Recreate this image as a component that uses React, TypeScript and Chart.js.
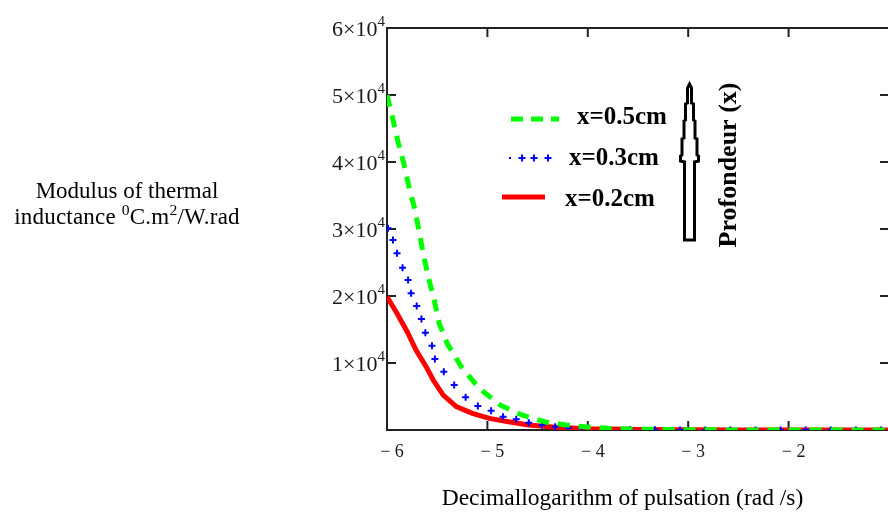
import React, { useEffect, useRef } from 'react';
import { Chart, registerables } from 'chart.js';

Chart.register(...registerables);

// ---- data ----
const xMin = -6;
const xMax = -1;
const yMax = 60000;
const yStep = 10000;

const greenX = [-6.0, -5.94, -5.89, -5.83, -5.78, -5.72, -5.68, -5.64, -5.59, -5.53, -5.48, -5.4, -5.26, -5.08, -4.87, -4.65, -4.42, -4.22, -4.0, -3.8, -3.5, -3.0, -2.5, -2.0, -1.0];
const greenY = [50000, 46300, 43000, 39600, 36200, 32800, 29600, 26400, 22900, 19400, 15900, 12900, 9450, 6200, 3700, 2200, 1200, 750, 450, 250, 120, 40, 10, 0, 0];

const blueX = [-5.99, -5.94, -5.9, -5.845, -5.79, -5.76, -5.704, -5.657, -5.618, -5.552, -5.523, -5.434, -5.331, -5.217, -5.095, -4.963, -4.844, -4.713, -4.588, -4.456, -4.324, -4.193, -4.06, -3.83, -3.58, -3.33, -3.08, -2.83, -2.58, -2.33, -2.08, -1.83, -1.58, -1.33, -1.08];
const blueY = [30100, 28360, 26370, 24230, 22390, 20400, 18510, 16570, 14520, 12590, 10600, 8700, 6720, 4880, 3580, 2880, 1990, 1600, 1090, 750, 490, 340, 250, 120, 60, 30, 10, 0, 0, 0, 0, 0, 0, 0, 0];

const redX = [-6.0, -5.9, -5.8, -5.71, -5.61, -5.54, -5.44, -5.31, -5.15, -4.98, -4.79, -4.59, -4.32, -4.0, -3.5, -3.0, -2.5, -2.0, -1.0];
const redY = [19900, 17400, 14700, 11900, 9450, 7460, 5220, 3480, 2490, 1740, 1240, 750, 400, 200, 80, 30, 10, 0, 0];

const seriesLabels = ['x=0.5cm', 'x=0.3cm', 'x=0.2cm'];
const seriesColors = ['#00ff00', '#0000ff', '#ff0000'];
const arrowLabel = 'Profondeur (x)';
const xTitle = 'Decimallogarithm of pulsation (rad /s)';
const yTitleLine1 = 'Modulus of thermal';

const SERIF = '"Liberation Serif", "Times New Roman", serif';

const toPoints = (xs: number[], ys: number[]) => xs.map((x, i) => ({ x, y: ys[i] }));

const decorPlugin = {
  id: 'decor',
  beforeDatasetsDraw(chart: any) {
    const { ctx, chartArea: a, scales } = chart;
    ctx.save();
    ctx.strokeStyle = '#222';
    ctx.lineWidth = 2;
    ctx.strokeRect(a.left, a.top, a.right - a.left, a.bottom - a.top);
    const L = 9;
    ctx.beginPath();
    scales.x.ticks.forEach((t: any) => {
      const px = scales.x.getPixelForValue(t.value);
      if (px <= a.left + 1 || px >= a.right - 1) return;
      ctx.moveTo(px, a.bottom);
      ctx.lineTo(px, a.bottom - L);
      ctx.moveTo(px, a.top);
      ctx.lineTo(px, a.top + L);
    });
    scales.y.ticks.forEach((t: any) => {
      const py = scales.y.getPixelForValue(t.value);
      if (py <= a.top + 1 || py >= a.bottom - 1) return;
      ctx.moveTo(a.left, py);
      ctx.lineTo(a.left + L, py);
      ctx.moveTo(a.right, py);
      ctx.lineTo(a.right - L, py);
    });
    ctx.stroke();
    ctx.restore();
  },
  afterDraw(chart: any) {
    const { ctx, chartArea: a, scales } = chart;
    ctx.save();
    // y tick labels with superscript exponent
    ctx.fillStyle = '#1a1a1a';
    ctx.textBaseline = 'alphabetic';
    scales.y.ticks.forEach((t: any) => {
      if (t.value === 0) return;
      const py = scales.y.getPixelForValue(t.value);
      const base = `${t.value / 10000}×10`;
      const sup = '4';
      ctx.font = `15px ${SERIF}`;
      const sw = ctx.measureText(sup).width;
      const right = a.left - 2;
      ctx.textAlign = 'right';
      ctx.fillText(sup, right, py - 2);
      ctx.font = `22px ${SERIF}`;
      ctx.fillText(base, right - sw, py + 8);
    });

    // legend
    const lx = a.left;
    ctx.lineCap = 'butt';
    // green dashed
    ctx.strokeStyle = seriesColors[0];
    ctx.lineWidth = 5;
    ctx.setLineDash([12, 8]);
    ctx.beginPath();
    ctx.moveTo(lx + 124, 119);
    ctx.lineTo(lx + 172, 119);
    ctx.stroke();
    ctx.setLineDash([]);
    // blue crosses
    ctx.strokeStyle = seriesColors[1];
    ctx.lineWidth = 2;
    ctx.beginPath();
    [135, 147, 161].forEach((dx) => {
      ctx.moveTo(lx + dx - 3.5, 158);
      ctx.lineTo(lx + dx + 3.5, 158);
      ctx.moveTo(lx + dx, 154.5);
      ctx.lineTo(lx + dx, 161.5);
    });
    ctx.stroke();
    ctx.fillStyle = seriesColors[1];
    ctx.fillRect(lx + 122, 157, 2, 2);
    // red solid
    ctx.strokeStyle = seriesColors[2];
    ctx.lineWidth = 5;
    ctx.beginPath();
    ctx.moveTo(lx + 115, 197);
    ctx.lineTo(lx + 158, 197);
    ctx.stroke();

    ctx.fillStyle = '#000';
    ctx.textAlign = 'left';
    ctx.font = `bold 25px ${SERIF}`;
    ctx.fillText(seriesLabels[0], lx + 190, 124);
    ctx.fillText(seriesLabels[1], lx + 182, 165);
    ctx.fillText(seriesLabels[2], lx + 178, 206);

    // arrow
    const ax = 689.5;
    const pts: [number, number][] = [
      [0, 84], [2, 88], [2, 103], [4, 104], [4, 120], [5.5, 121], [5.5, 138], [7.5, 139], [7.5, 155], [9, 156], [9, 161],
      [5, 162], [5, 240], [-5, 240], [-5, 162], [-9, 161], [-9, 156], [-7.5, 155], [-7.5, 139], [-5.5, 138], [-5.5, 121],
      [-4, 120], [-4, 104], [-2, 103], [-2, 88],
    ];
    ctx.beginPath();
    pts.forEach(([dx, y], i) => (i === 0 ? ctx.moveTo(ax + dx, y) : ctx.lineTo(ax + dx, y)));
    ctx.closePath();
    ctx.fillStyle = '#fff';
    ctx.fill();
    ctx.strokeStyle = '#000';
    ctx.lineWidth = 3;
    ctx.lineJoin = 'miter';
    ctx.stroke();

    // vertical label
    ctx.translate(736, 165);
    ctx.rotate(-Math.PI / 2);
    ctx.fillStyle = '#000';
    ctx.textAlign = 'center';
    ctx.font = `bold 26px ${SERIF}`;
    ctx.fillText(arrowLabel, 0, 0);
    ctx.restore();
  },
};

export default function App() {
  const ref = useRef<HTMLCanvasElement | null>(null);

  useEffect(() => {
    if (!ref.current) return;
    const chart = new Chart(ref.current, {
      type: 'line',
      data: {
        datasets: [
          {
            label: seriesLabels[0],
            data: toPoints(greenX, greenY),
            borderColor: seriesColors[0],
            borderWidth: 5,
            borderDash: [12, 9],
            pointRadius: 0,
            tension: 0,
            fill: false,
          },
          {
            label: seriesLabels[1],
            data: toPoints(blueX, blueY),
            borderColor: seriesColors[1],
            backgroundColor: seriesColors[1],
            showLine: false,
            pointStyle: 'cross',
            pointRadius: 3.5,
            pointBorderWidth: 2,
            pointBorderColor: seriesColors[1],
          },
          {
            label: seriesLabels[2],
            data: toPoints(redX, redY),
            borderColor: seriesColors[2],
            borderWidth: 5,
            pointRadius: 0,
            tension: 0,
            fill: false,
          },
        ],
      },
      options: {
        animation: false,
        responsive: false,
        maintainAspectRatio: false,
        layout: { padding: { top: 28, right: 7, left: 0, bottom: 0 } },
        plugins: { legend: { display: false }, tooltip: { enabled: false }, title: { display: false } },
        scales: {
          x: {
            type: 'linear',
            min: xMin,
            max: xMax,
            grid: { display: false, drawTicks: false },
            border: { display: false },
            ticks: {
              stepSize: 1,
              padding: 11,
              labelOffset: 5,
              color: '#1a1a1a',
              font: { family: SERIF, size: 18 },
              callback: (v: any) => (Number(v) === xMax ? '' : '\u2212 ' + Math.abs(Number(v))),
            },
            afterFit: (s: any) => {
              s.height = 82;
            },
          },
          y: {
            type: 'linear',
            min: 0,
            max: yMax,
            grid: { display: false, drawTicks: false },
            border: { display: false },
            ticks: { stepSize: yStep, display: false },
            afterFit: (s: any) => {
              s.width = 387;
            },
          },
        },
      },
      plugins: [decorPlugin],
    });
    return () => chart.destroy();
  }, []);

  const supStyle = { fontSize: '0.68em', verticalAlign: '0.6em', lineHeight: 0 } as const;

  return (
    <div style={{ position: 'absolute', left: 0, top: 0, width: 888, height: 512, overflow: 'hidden', background: '#fff' }}>
      <canvas ref={ref} width={900} height={512} style={{ position: 'absolute', left: 0, top: 0, width: 900, height: 512 }} />
      <div
        style={{
          position: 'absolute',
          left: 0,
          top: 178,
          width: 254,
          textAlign: 'center',
          fontFamily: SERIF,
          fontSize: 23,
          lineHeight: '26px',
          color: '#000',
          whiteSpace: 'nowrap',
        }}
      >
        <div>{yTitleLine1}</div>
        <div style={{ letterSpacing: '0.2px' }}>
          inductance <sup style={supStyle}>0</sup>C.m
          <sup style={supStyle}>2</sup>/W.rad
        </div>
      </div>
      <div
        style={{
          position: 'absolute',
          left: 0,
          top: 483,
          width: 1245,
          textAlign: 'center',
          fontFamily: SERIF,
          fontSize: 23.5,
          lineHeight: '28px',
          color: '#000',
          whiteSpace: 'nowrap',
        }}
      >
        {xTitle}
      </div>
    </div>
  );
}
